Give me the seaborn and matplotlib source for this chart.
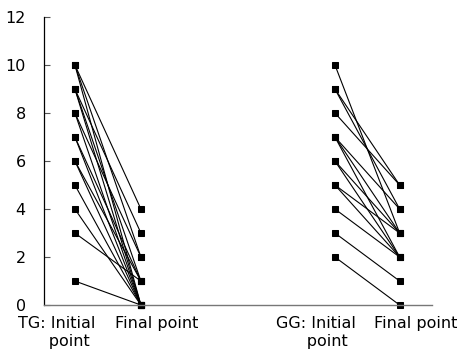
import numpy as np
import pandas as pd
import matplotlib
matplotlib.use("Agg")
import matplotlib.pyplot as plt
import seaborn as sns

# paired values, initial -> final
tg_initial = [10, 10, 10, 9, 9, 9, 8, 8, 7, 7, 6, 6, 5, 4, 3, 1]
tg_final = [4, 2, 0, 3, 1, 0, 2, 0, 1, 0, 1, 0, 0, 0, 1, 0]
gg_initial = [10, 9, 9, 8, 7, 7, 7, 6, 6, 5, 5, 4, 3, 2]
gg_final = [3, 5, 4, 5, 4, 3, 2, 3, 2, 3, 2, 2, 1, 0]

# x positions of the four columns and of their labels
col_pos = [0, 1, 3.94, 4.92]
label_pos = [-0.27, 1.24, 3.65, 5.17]
labels = ["TG: Initial\n      point", "Final point",
          "GG: Initial\n      point", "Final point"]
yticks = [0, 2, 4, 6, 8, 10, 12]

rows = []
for i, (a, b) in enumerate(zip(tg_initial, tg_final)):
    rows.append(("tg%d" % i, col_pos[0], a))
    rows.append(("tg%d" % i, col_pos[1], b))
for i, (a, b) in enumerate(zip(gg_initial, gg_final)):
    rows.append(("gg%d" % i, col_pos[2], a))
    rows.append(("gg%d" % i, col_pos[3], b))
df = pd.DataFrame(rows, columns=["pair", "x", "value"])

sns.set_style("ticks")
plt.rcParams["font.family"] = ["DejaVu Sans"]

fig = plt.figure(figsize=(4.62, 3.61), dpi=100)
ax = fig.add_axes([0.095, 0.155, 0.84, 0.798])

sns.lineplot(data=df, x="x", y="value", units="pair", estimator=None,
             color="black", lw=0.8, marker="s", markersize=5,
             markeredgecolor="black", ax=ax, legend=False)

ax.set_xlim(-0.47, 5.41)
ax.set_ylim(0, 12)
ax.set_yticks(yticks)
ax.set_xticks(label_pos)
ax.set_xticklabels(labels, multialignment="left")
ax.tick_params(axis="y", direction="in", length=4, width=0.8,
               labelsize=11.5, pad=13, color="#555555", labelcolor="black")
ax.tick_params(axis="x", length=0, labelsize=11.5, pad=8, labelcolor="black")
ax.set_xlabel("")
ax.set_ylabel("")
sns.despine(ax=ax)
ax.spines["left"].set_linewidth(0.9)
ax.spines["left"].set_color("black")
ax.spines["bottom"].set_linewidth(1.0)
ax.spines["bottom"].set_color("#777777")
for m in ax.lines:
    m.set_clip_on(False)

fig.savefig("out.png", dpi=100)
